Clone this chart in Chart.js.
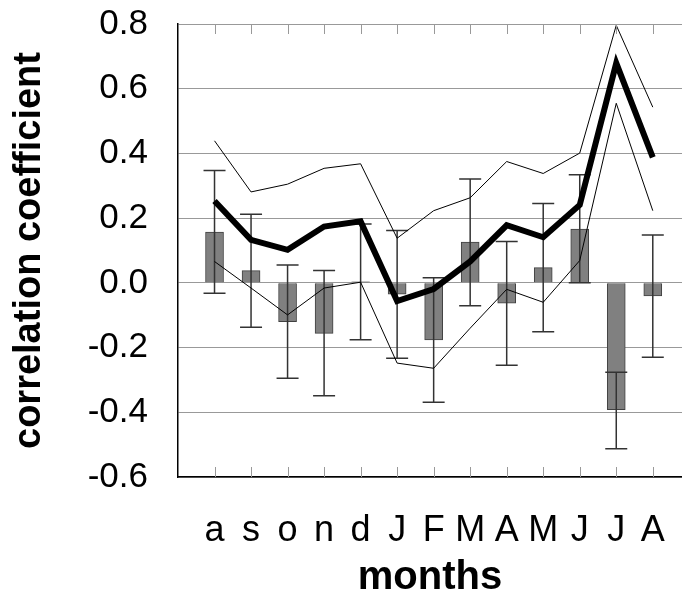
<!DOCTYPE html>
<html lang="en">
  <head>
    <meta charset="UTF-8" />
    <script src="https://cdn.jsdelivr.net/npm/chart.js@4.4.0/dist/chart.umd.min.js"></script>
    <title>correlation coefficient by month</title>
    <style>
      body {
        margin: 0;
        padding: 0;
        background: white;
      }

      .container {
        width: 682px;
        height: 589px;
      }
    </style>
  </head>
  <body>
    <div class="container">
      <canvas id="chart"></canvas>
    </div>
    <script>
      const months = ['a', 's', 'o', 'n', 'd', 'J', 'F', 'M', 'A', 'M', 'J', 'J', 'A']
      const barValues = [0.157, 0.038, -0.12, -0.156, 0.003, -0.035, -0.176, 0.126, -0.063, 0.047, 0.166, -0.392, -0.04]
      const errHigh = [0.347, 0.212, 0.055, 0.038, 0.182, 0.162, 0.016, 0.321, 0.128, 0.245, 0.334, -0.276, 0.148]
      const errLow = [-0.032, -0.137, -0.295, -0.349, -0.176, -0.233, -0.369, -0.071, -0.255, -0.151, 0.0, -0.513, -0.23]
      const mainLine = [0.253, 0.133, 0.102, 0.174, 0.19, -0.056, -0.019, 0.066, 0.178, 0.141, 0.241, 0.679, 0.388]
      const upperLine = [0.439, 0.281, 0.305, 0.354, 0.368, 0.138, 0.223, 0.263, 0.375, 0.338, 0.401, 0.796, 0.543]
      const lowerLine = [0.066, -0.016, -0.099, -0.016, 0.002, -0.248, -0.264, -0.14, -0.02, -0.06, 0.069, 0.555, 0.223]
      const yTicks = [-0.6, -0.4, -0.2, 0.0, 0.2, 0.4, 0.6, 0.8]

      const pts = (arr) => arr.map((v, i) => ({ x: i + 1, y: v }))

      // error bars and inward x ticks, drawn from the scales
      const extras = {
        id: 'extras',
        afterDatasetDraw(chart, args) {
          if (args.index !== 0) return
          const { ctx } = chart
          const xs = chart.scales.x
          const ys = chart.scales.y
          ctx.save()
          ctx.strokeStyle = '#333'
          ctx.lineWidth = 1.5
          errHigh.forEach((hi, i) => {
            const x = xs.getPixelForValue(i + 1)
            const y1 = ys.getPixelForValue(hi)
            const y2 = ys.getPixelForValue(errLow[i])
            ctx.beginPath()
            ctx.moveTo(x, y1)
            ctx.lineTo(x, y2)
            ctx.moveTo(x - 11, y1)
            ctx.lineTo(x + 11, y1)
            ctx.moveTo(x - 11, y2)
            ctx.lineTo(x + 11, y2)
            ctx.stroke()
          })
          ctx.restore()
        },
        afterDraw(chart) {
          const { ctx, chartArea } = chart
          const xs = chart.scales.x
          ctx.save()
          ctx.strokeStyle = '#999'
          ctx.lineWidth = 1
          months.forEach((m, i) => {
            const x = Math.round(xs.getPixelForValue(i + 1)) + 0.5
            ctx.beginPath()
            ctx.moveTo(x, chartArea.bottom)
            ctx.lineTo(x, chartArea.bottom - 10)
            ctx.moveTo(x, chartArea.top)
            ctx.lineTo(x, chartArea.top + 10)
            ctx.stroke()
          })
          ctx.restore()
        },
      }

      new Chart(document.getElementById('chart'), {
        type: 'bar',
        data: {
          datasets: [
            {
              type: 'bar',
              data: pts(barValues),
              backgroundColor: '#808080',
              borderColor: '#404040',
              borderWidth: 1,
              barThickness: 18,
              order: 3,
            },
            {
              type: 'line',
              data: pts(mainLine),
              borderColor: '#000',
              borderWidth: 6,
              pointRadius: 0,
              tension: 0,
              order: 1,
            },
            {
              type: 'line',
              data: pts(upperLine),
              borderColor: '#000',
              borderWidth: 1,
              pointRadius: 0,
              tension: 0,
              order: 2,
            },
            {
              type: 'line',
              data: pts(lowerLine),
              borderColor: '#000',
              borderWidth: 1,
              pointRadius: 0,
              tension: 0,
              order: 2,
            },
          ],
        },
        plugins: [extras],
        options: {
          responsive: true,
          maintainAspectRatio: false,
          animation: false,
          layout: { padding: { top: 24, left: 0, right: 0, bottom: 0 } },
          plugins: {
            legend: { display: false },
            tooltip: { enabled: false },
          },
          scales: {
            x: {
              type: 'linear',
              offset: false,
              min: 0,
              max: 13.8,
              afterBuildTicks: (scale) => {
                scale.ticks = months.map((m, i) => ({ value: i + 1 }))
              },
              afterFit: (scale) => {
                scale.height = 112
                scale.paddingLeft = 0
                scale.paddingRight = 0
              },
              ticks: {
                autoSkip: false,
                maxRotation: 0,
                padding: 24,
                color: '#000',
                font: { family: 'Liberation Sans, Arial', size: 36 },
                callback: (v) => months[v - 1],
              },
              grid: { display: false, offset: false },
              border: { color: '#000', width: 1.5 },
              title: {
                display: true,
                text: 'months',
                color: '#000',
                font: { family: 'Liberation Sans, Arial', size: 40, weight: 'bold', lineHeight: 1 },
                padding: { top: 0, bottom: -9 },
              },
            },
            y: {
              min: -0.6,
              max: 0.8,
              afterBuildTicks: (scale) => {
                scale.ticks = yTicks.map((v) => ({ value: v }))
              },
              afterFit: (scale) => {
                scale.width = 178
                scale.paddingTop = 0
                scale.paddingBottom = 0
              },
              ticks: {
                padding: 30,
                color: '#000',
                font: { family: 'Liberation Sans, Arial', size: 35 },
                callback: (v) => v.toFixed(1),
              },
              grid: {
                color: '#999',
                lineWidth: 1,
                drawTicks: false,
              },
              border: { color: '#000', width: 1.5 },
              title: {
                display: true,
                text: 'correlation coefficient',
                color: '#000',
                font: { family: 'Liberation Sans, Arial', size: 38, weight: 'bold' },
                padding: { top: 7, bottom: 0 },
              },
            },
          },
        },
      })
    </script>
  </body>
</html>
